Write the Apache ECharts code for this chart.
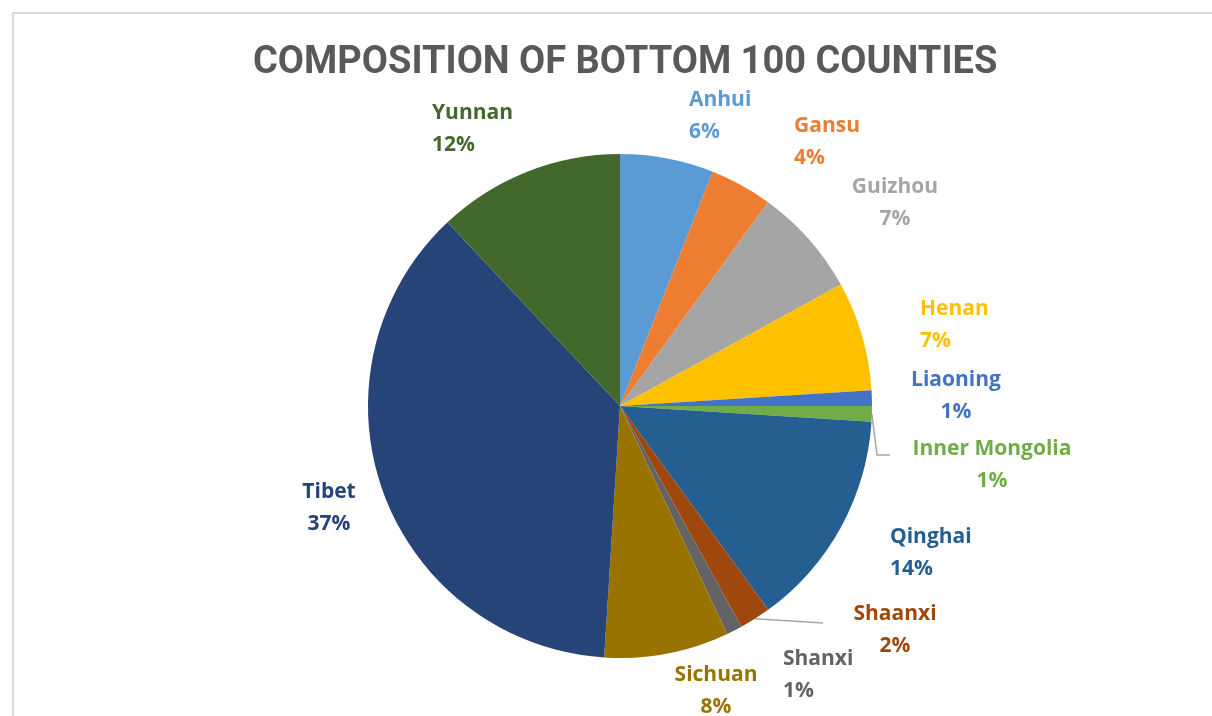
<!DOCTYPE html>
<html>
<head>
<meta charset="utf-8">
<script src="https://cdn.jsdelivr.net/npm/echarts@6/dist/echarts.min.js"></script>
<style>
  html, body { margin: 0; padding: 0; background: #ffffff; }
  #chart { width: 1212px; height: 716px; }
</style>
</head>
<body>
<div id="chart"></div>
<script>
// Provinces making up the bottom 100 counties (count out of 100 = percent)
const provinces = ['Anhui', 'Gansu', 'Guizhou', 'Henan', 'Liaoning', 'Inner Mongolia',
                   'Qinghai', 'Shaanxi', 'Shanxi', 'Sichuan', 'Tibet', 'Yunnan'];
const counts = [6, 4, 7, 7, 1, 1, 14, 2, 1, 8, 37, 12];
const sliceColors = ['#5B9BD5', '#ED7D31', '#A5A5A5', '#FFC000', '#4472C4', '#70AD47',
                     '#255E91', '#9E480E', '#636363', '#997300', '#264478', '#43682B'];

// Where each two-line label block sits (x, vertical centre, alignment)
const labelSpots = {
  'Anhui':          { x: 689, y: 116, align: 'left' },
  'Gansu':          { x: 794, y: 142, align: 'left' },
  'Guizhou':        { x: 895, y: 203, align: 'center' },
  'Henan':          { x: 920, y: 325, align: 'left' },
  'Liaoning':       { x: 956, y: 396, align: 'center' },
  'Inner Mongolia': { x: 992, y: 465, align: 'center' },
  'Qinghai':        { x: 890, y: 553, align: 'left' },
  'Shaanxi':        { x: 895, y: 630, align: 'center' },
  'Shanxi':         { x: 783, y: 675, align: 'left' },
  'Sichuan':        { x: 716, y: 691, align: 'center' },
  'Tibet':          { x: 329, y: 508, align: 'center' },
  'Yunnan':         { x: 432, y: 129, align: 'left' }
};
// Leader lines drawn for the thin slices
const leaderEnds = {
  'Inner Mongolia': [[877, 455], [890, 455]],
  'Shaanxi':        [[823, 623]]
};

const chart = echarts.init(document.getElementById('chart'), null, { renderer: 'canvas' });

const pieData = provinces.map((name, i) => ({
  name: name,
  value: counts[i],
  itemStyle: { color: sliceColors[i] },
  label: { color: sliceColors[i] },
  labelLine: { show: !!leaderEnds[name] }
}));

chart.setOption({
  backgroundColor: '#ffffff',
  animation: false,
  title: {
    text: 'COMPOSITION OF BOTTOM 100 COUNTIES',
    left: 248,
    top: 39,
    textStyle: {
      fontFamily: 'Roboto, "Open Sans", sans-serif',
      fontWeight: 'bold',
      fontSize: 38,
      color: '#595959'
    }
  },
  graphic: [{
    type: 'rect',
    shape: { x: 13, y: 13, width: 1260, height: 760 },
    style: { fill: 'none', stroke: '#d9d9d9', lineWidth: 2 },
    silent: true
  }],
  series: [{
    type: 'pie',
    center: [620, 406],
    radius: 252,
    startAngle: 90,
    clockwise: true,
    data: pieData,
    label: {
      show: true,
      formatter: '{b}\n{d}%',
      fontFamily: '"Open Sans", sans-serif',
      fontWeight: 'bold',
      fontSize: 21,
      lineHeight: 32
    },
    labelLine: {
      lineStyle: { color: '#A6A6A6', width: 1.5 },
      smooth: false
    },
    labelLayout: function (params) {
      const name = provinces[params.dataIndex];
      const spot = labelSpots[name];
      const out = { x: spot.x, y: spot.y, align: spot.align, verticalAlign: 'middle' };
      if (leaderEnds[name]) {
        out.labelLinePoints = [params.labelLinePoints[0]].concat(leaderEnds[name]);
      }
      return out;
    }
  }]
});
</script>
</body>
</html>
